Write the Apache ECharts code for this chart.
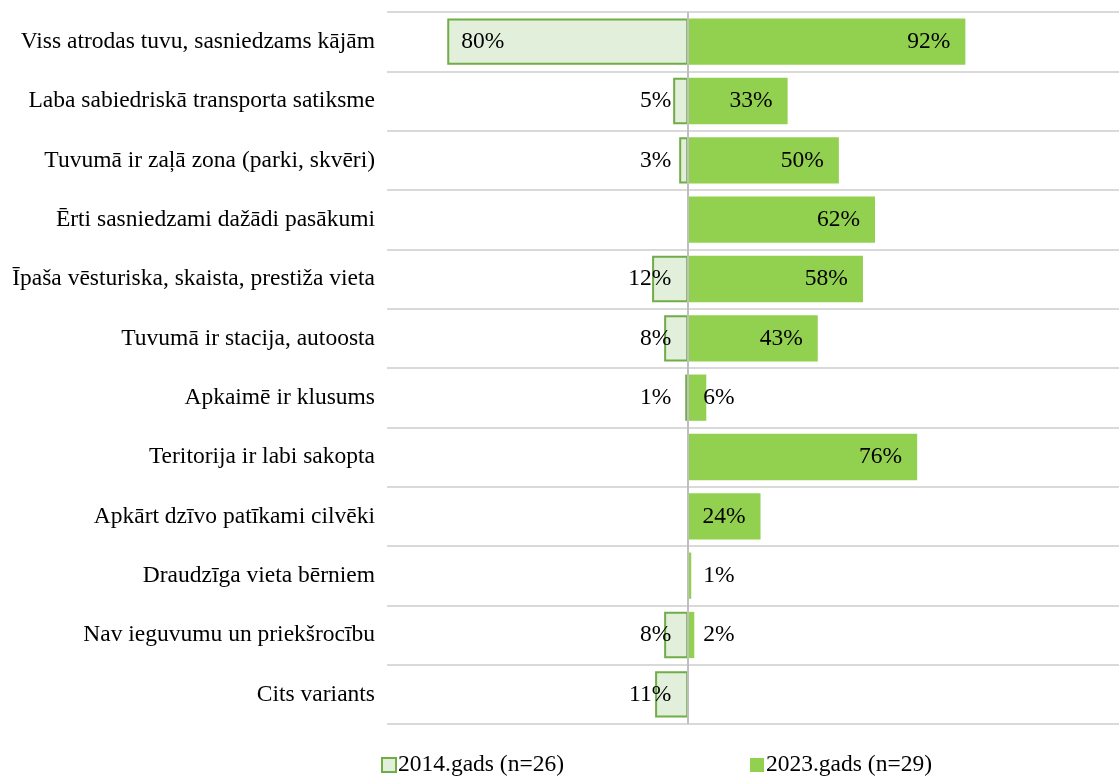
<!DOCTYPE html>
<html>
<head>
<meta charset="utf-8">
<script src="https://cdn.jsdelivr.net/npm/echarts@6/dist/echarts.min.js"></script>
<style>
  html, body { margin: 0; padding: 0; background: #fff; }
  #chart { width: 1119px; height: 779px; }
</style>
</head>
<body>
<div id="chart"></div>
<script>
const categories = [
  'Viss atrodas tuvu, sasniedzams kājām',
  'Laba sabiedriskā transporta satiksme',
  'Tuvumā ir zaļā zona (parki, skvēri)',
  'Ērti sasniedzami dažādi pasākumi',
  'Īpaša vēsturiska, skaista, prestiža vieta',
  'Tuvumā ir stacija, autoosta',
  'Apkaimē ir klusums',
  'Teritorija ir labi sakopta',
  'Apkārt dzīvo patīkami cilvēki',
  'Draudzīga vieta bērniem',
  'Nav ieguvumu un priekšrocību',
  'Cits variants'
]
const values2014 = [80, 5, 3, null, 12, 8, 1, null, null, null, 8, 11]
const values2023 = [92, 33, 50, 62, 58, 43, 6, 76, 24, 1, 2, null]
const seriesNames = ['2014.gads (n=26)', '2023.gads (n=29)']

const FONT = '"Liberation Serif", "DejaVu Serif", serif'
const FS = 23.5

const chart = echarts.init(document.getElementById('chart'))

// 2014 goes to the left, so values are flipped
const left = values2014.map(v => {
  if (v == null) return null
  const item = { value: -v }
  if (v >= 50) item.label = { position: 'insideLeft', distance: 14, align: 'left' }
  return item
})
const right = values2023.map(v => {
  if (v == null) return null
  const item = { value: v }
  if (v < 10) item.label = { position: 'insideLeft', distance: 15, align: 'left' }
  return item
})

chart.setOption({
  animation: false,
  textStyle: { fontFamily: FONT },
  legend: {
    left: 376,
    top: 748,
    itemWidth: 14,
    itemHeight: 14,
    itemGap: 186,
    icon: 'rect',
    textStyle: { fontFamily: FONT, fontSize: FS, color: '#000', padding: [0, 0, 0, -3] },
    data: seriesNames
  },
  grid: {
    left: 387,
    right: 0,
    top: 12,
    bottom: 55
  },
  xAxis: {
    type: 'value',
    min: -100,
    max: 143,
    show: false
  },
  yAxis: {
    type: 'category',
    inverse: true,
    data: categories,
    axisLine: { show: false },
    axisTick: { show: false },
    axisLabel: {
      margin: 12,
      fontFamily: FONT,
      fontSize: FS,
      color: '#000'
    },
    splitLine: { show: true, lineStyle: { color: '#d9d9d9', width: 2 } }
  },
  series: [
    {
      name: seriesNames[0],
      type: 'bar',
      stack: 'a',
      barWidth: '78%',
      data: left,
      itemStyle: { color: '#e2efda', borderColor: '#70ad47', borderWidth: 2 },
      label: {
        show: true,
        position: 'insideRight',
        distance: 17,
        align: 'right',
        fontFamily: FONT,
        fontSize: FS,
        color: '#000',
        formatter: p => Math.abs(p.value) + '%'
      },
      markLine: {
        silent: true,
        symbol: 'none',
        label: { show: false },
        lineStyle: { color: '#bfbfbf', type: 'solid', width: 2 },
        data: [{ xAxis: 0 }]
      }
    },
    {
      name: seriesNames[1],
      type: 'bar',
      stack: 'a',
      barWidth: '78%',
      data: right,
      itemStyle: { color: '#92d050' },
      label: {
        show: true,
        position: 'insideRight',
        distance: 15,
        fontFamily: FONT,
        fontSize: FS,
        color: '#000',
        formatter: '{c}%'
      }
    }
  ]
})
</script>
</body>
</html>
